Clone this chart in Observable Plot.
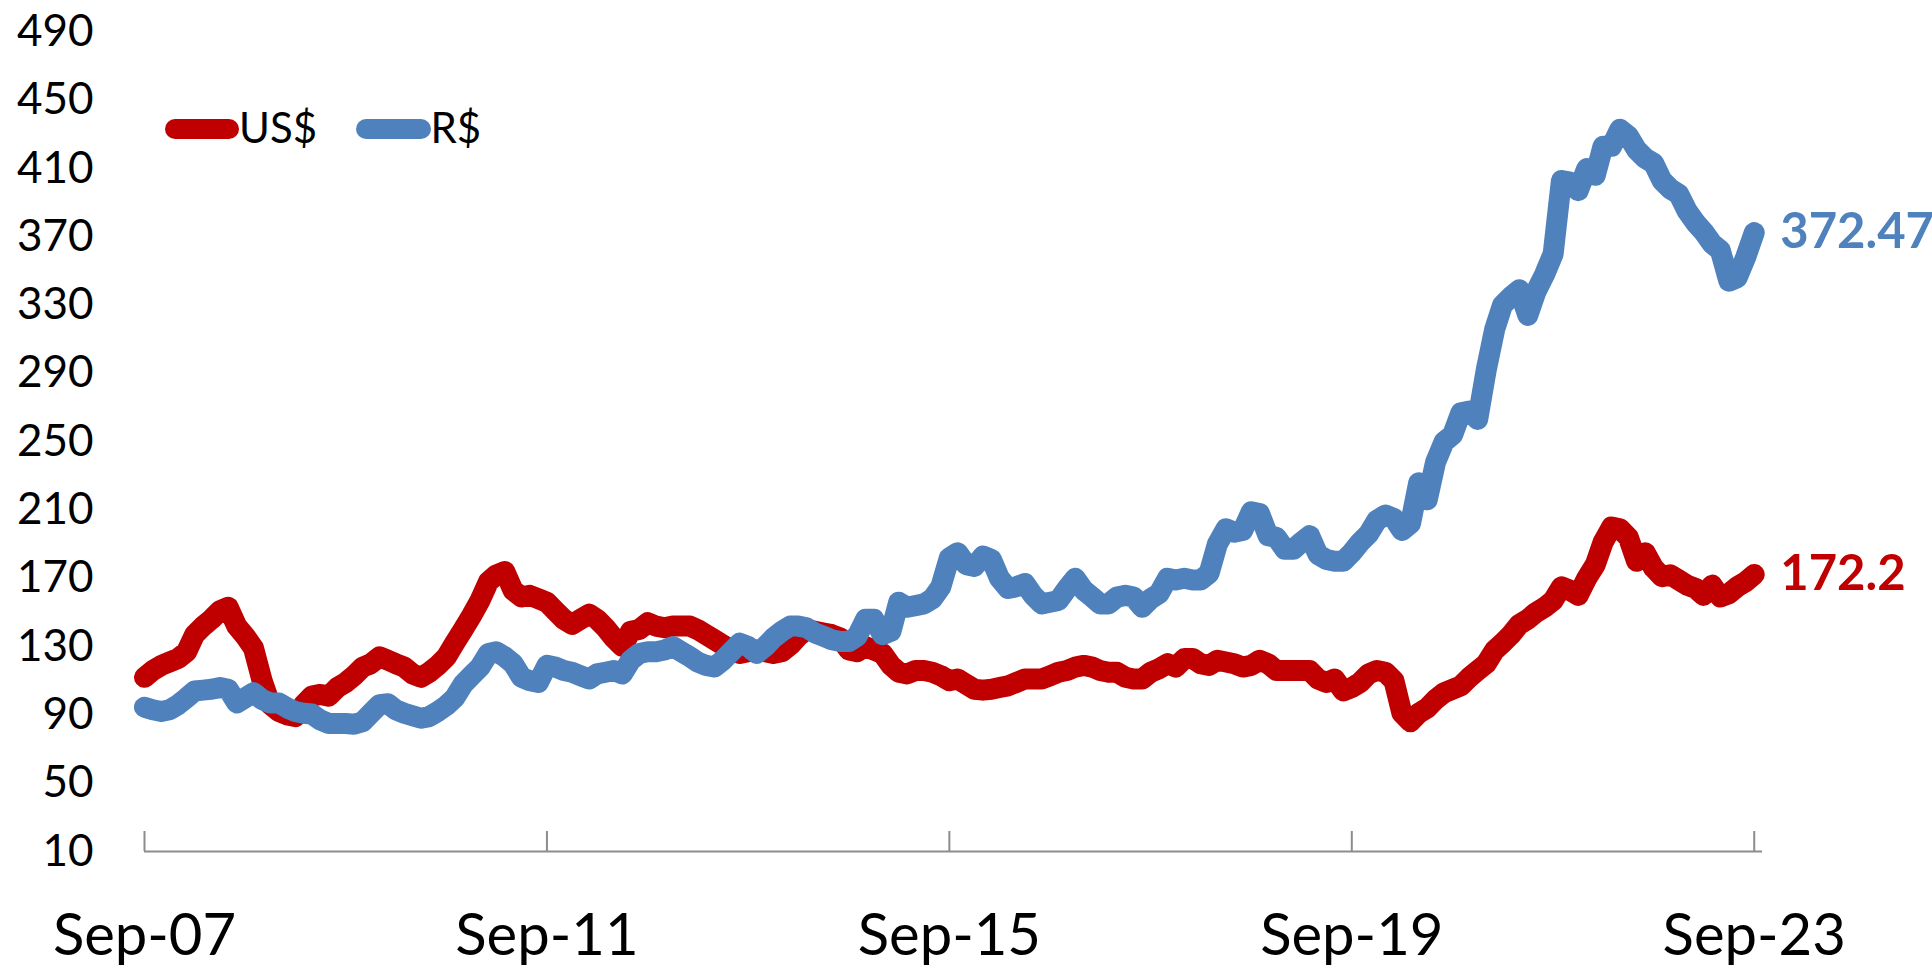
<!DOCTYPE html>
<html>
<head>
<meta charset="utf-8">
<script src="https://cdn.jsdelivr.net/npm/d3@7"></script>
<script src="https://cdn.jsdelivr.net/npm/@observablehq/plot@0.6"></script>
<style>
  html, body { margin: 0; padding: 0; background: #fff; overflow: hidden; }
  #wrap { position: relative; width: 1932px; height: 965px; }
  .lg-sw { position: absolute; height: 20px; border-radius: 10px; }
  .lg-tx { position: absolute; font-family: Lato, sans-serif; font-size: 42px; line-height: 42px; color: #000; white-space: nowrap; }
</style>
</head>
<body>
<div id="wrap"></div>
<script>
// Monthly index values, Sep-2007 .. Sep-2023
const seriesNames = ["US$", "R$"];
const seriesColors = ["#C00000", "#4F81BD"];
const startYear = 2007, startMonth = 8; // September
const usd = [
  112,116,119,121,123,127,137,142,146,151,153,142,
  136,129,110,96,92,90,89,96,101,102,101,106,
  109,113,118,120,124,122,120,118,114,112,115,119,
  124,132,140,148,157,168,172,174,163,159,160,158,
  156,151,146,143,146,149,146,141,135,130,139,140,
  144,142,141,142,142,142,140,137,134,131,128,126,
  127,128,127,126,127,131,136,140,139,138,137,135,
  128,127,130,128,126,119,115,114,116,116,115,113,
  110,111,108,105,104.5,105,106,107,109,111,111,111,
  113,115,116,118,119,118,116,115,115,112,111,111,
  115,117,120,118,123,123,120,119,122,121,120,118,
  119,122,120,116,116,116,116,116,111,109,111,104,
  106,109,114,116,115,110,91,86,91,94,99,103,
  105,107,112,116,120,128,132,137,143,146,150,153,
  157,165,163,160,170,178,191,200,199,194,180,185,
  176,171,172,169,166,164,160,166,159,161,165,168,
  172.2
];
const brl = [
  94.5,93,92,93,96,100,104,104.5,105,106,105,97,
  100,103,99,97,97,94,92,91,90.5,87,85,85,
  85,84.5,86,91,96,96.5,93,91,89.5,88,89,92,
  95.5,100,108,113,118,126,127,124,120,112,110,109,
  119,118,116,115,113,111,114,115,116,114,122,126,
  127,127,128,130,127,124,121,119,118,122,127,132,
  130,126,130,135,139,142,142,141,138,136,134,133,
  133,136,146,146,137,139,156,153,154,155,158,165,
  182,185,178,177,183,181,170,164,165,167,160,155,
  156,157,164,170,163,159,155,155,159,160,159,153,
  158,161,170,169,170,169,169,173,190,199,197,198,
  209,208,195,194,187,187,191,195,184,181,180,180,
  185,191,196,204,207,205,198,202,226,216,238,250,
  254,267,268,263,292,316,330,335,339,324,338,348,
  360,403,402,397,410,406,423,423,433,429,421,416,
  413,403,398,395,385,378,373,366,362,344,346,358,
  372.47
];
const yTicks = [10,50,90,130,170,210,250,290,330,370,410,450,490];
const xTickYears = [2007, 2011, 2015, 2019, 2023];

const start = new Date(Date.UTC(startYear, startMonth, 1));
const dates = usd.map((_, i) => d3.utcMonth.offset(start, i));
const xEnd = d3.utcMonth.offset(start, usd.length);
const xTicks = xTickYears.map(y => new Date(Date.UTC(y, startMonth, 1)));
const rowsUsd = usd.map((v, i) => ({date: dates[i], value: v}));
const rowsBrl = brl.map((v, i) => ({date: dates[i], value: v}));
const lastUsd = rowsUsd[rowsUsd.length - 1];
const lastBrl = rowsBrl[rowsBrl.length - 1];

const chart = Plot.plot({
  width: 1932,
  height: 965,
  marginLeft: 144,
  marginRight: 170,
  marginTop: 31.4,
  marginBottom: 114,
  style: {fontFamily: "Lato, sans-serif", background: "#fff", overflow: "visible"},
  x: {type: "utc", domain: [start, xEnd]},
  y: {domain: [10, 490]},
  marks: [
    Plot.ruleY([yTicks[0]], {stroke: "#8c8c8c", strokeWidth: 2}),
    Plot.ruleX(xTicks, {x: d => d, y1: () => yTicks[0], y2: () => yTicks[0], insetTop: -20, stroke: "#8c8c8c", strokeWidth: 2}),
    Plot.axisX({ticks: xTicks, tickSize: 0, tickPadding: 62, tickFormat: d3.utcFormat("%b-%y"), fontSize: 58, fill: "#000", label: null}),
    Plot.axisY({ticks: yTicks, tickSize: 0, tickPadding: 51, fontSize: 44, fill: "#000", label: null}),
    Plot.line(rowsUsd, {x: "date", y: "value", stroke: seriesColors[0], strokeWidth: 21, strokeLinejoin: "round", strokeLinecap: "round"}),
    Plot.line(rowsBrl, {x: "date", y: "value", stroke: seriesColors[1], strokeWidth: 21, strokeLinejoin: "round", strokeLinecap: "round"}),
    Plot.text([lastUsd], {x: "date", y: "value", text: d => String(d.value), dx: 26, textAnchor: "start", fill: seriesColors[0], fontWeight: "bold", fontSize: 49}),
    Plot.text([lastBrl], {x: "date", y: "value", text: d => String(d.value), dx: 26, textAnchor: "start", fill: seriesColors[1], fontWeight: "bold", fontSize: 49})
  ]
});

const wrap = document.getElementById("wrap");
wrap.appendChild(chart);

// Legend (inside the plot area, top-left)
const legendItems = [
  {sw: 164.6, swW: 74.6, tx: 239},
  {sw: 356, swW: 74.5, tx: 430.5}
];
legendItems.forEach((it, i) => {
  const sw = document.createElement("div");
  sw.className = "lg-sw";
  sw.style.left = it.sw + "px";
  sw.style.top = "119px";
  sw.style.width = it.swW + "px";
  sw.style.background = seriesColors[i];
  wrap.appendChild(sw);
  const tx = document.createElement("div");
  tx.className = "lg-tx";
  tx.style.left = it.tx + "px";
  tx.style.top = "106px";
  tx.textContent = seriesNames[i];
  wrap.appendChild(tx);
});
</script>
</body>
</html>
